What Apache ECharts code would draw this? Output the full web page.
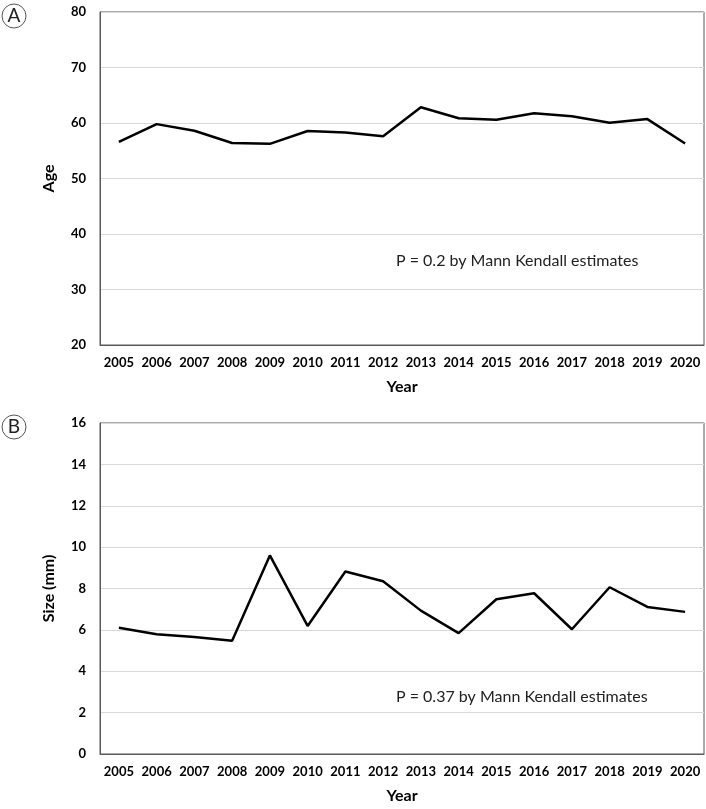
<!DOCTYPE html>
<html><head><meta charset="utf-8">
<script src="https://cdn.jsdelivr.net/npm/echarts@6/dist/echarts.min.js"></script>
<style>html,body{margin:0;padding:0;background:#fff}#c{width:706px;height:809px}</style>
</head><body><div id="c"></div>
<script>
const years = ['2005','2006','2007','2008','2009','2010','2011','2012','2013','2014','2015','2016','2017','2018','2019','2020'];
const ageValues = [56.6, 59.8, 58.6, 56.4, 56.25, 58.55, 58.3, 57.6, 62.84, 60.85, 60.6, 61.75, 61.2, 60.05, 60.7, 56.3];
const sizeValues = [6.1, 5.79, 5.65, 5.48, 9.6, 6.19, 8.82, 8.35, 6.93, 5.84, 7.48, 7.77, 6.03, 8.06, 7.11, 6.87];
const noteA = 'P = 0.2 by Mann Kendall estimates';
const noteB = 'P = 0.37 by Mann Kendall estimates';

const FONT = 'Lato';
const chart = echarts.init(document.getElementById('c'), null, {renderer:'canvas'});
const xAx = (gi) => ({
  type:'category', gridIndex:gi, data:years, boundaryGap:true,
  axisLine:{show:true, lineStyle:{color:'#595959', width:1}},
  axisTick:{show:false},
  axisLabel:{color:'#000', fontFamily:FONT, fontWeight:'bold', fontSize:13, margin:11, interval:0},
  name:'Year', nameLocation:'middle', nameGap:34,
  nameTextStyle:{color:'#000', fontFamily:FONT, fontWeight:'bold', fontSize:16}
});
const yAx = (gi, min, max, interval, name) => ({
  type:'value', gridIndex:gi, min, max, interval,
  axisLine:{show:true, lineStyle:{color:'#595959', width:1}},
  axisTick:{show:false},
  splitLine:{show:true, lineStyle:{color:'#d9d9d9', width:1}},
  axisLabel:{color:'#000', fontFamily:FONT, fontWeight:'bold', fontSize:13, margin:14},
  name, nameLocation:'middle', nameGap:43, nameRotate:90,
  nameTextStyle:{color:'#000', fontFamily:FONT, fontWeight:'bold', fontSize:16}
});
chart.setOption({
  animation:false,
  grid:[
    {left:100, top:12, width:604, height:333, show:true, borderColor:'#595959', borderWidth:1, containLabel:false},
    {left:100, top:423, width:604, height:331, show:true, borderColor:'#595959', borderWidth:1, containLabel:false}
  ],
  xAxis:[xAx(0), xAx(1)],
  yAxis:[yAx(0,20,80,10,'Age'), yAx(1,0,16,2,'Size (mm)')],
  series:[
    {type:'line', xAxisIndex:0, yAxisIndex:0, data:ageValues, symbol:'none', lineStyle:{color:'#000', width:2.5}},
    {type:'line', xAxisIndex:1, yAxisIndex:1, data:sizeValues, symbol:'none', lineStyle:{color:'#000', width:2.5}}
  ],
  graphic:[
    {type:'circle', shape:{cx:14, cy:16, r:12}, style:{fill:'#fff', stroke:'#555', lineWidth:1}},
    {type:'text', x:14, y:16, style:{text:'A', fontFamily:FONT, fontSize:19, fill:'#222', align:'center', verticalAlign:'middle'}},
    {type:'circle', shape:{cx:14, cy:427, r:12}, style:{fill:'#fff', stroke:'#555', lineWidth:1}},
    {type:'text', x:14, y:427, style:{text:'B', fontFamily:FONT, fontSize:19, fill:'#222', align:'center', verticalAlign:'middle'}},
    {type:'text', x:396, y:261, style:{text:noteA, fontFamily:FONT, fontSize:16, fill:'#222', verticalAlign:'middle'}},
    {type:'text', x:396, y:697, style:{text:noteB, fontFamily:FONT, fontSize:16, fill:'#222', verticalAlign:'middle'}}
  ]
});
</script></body></html>
